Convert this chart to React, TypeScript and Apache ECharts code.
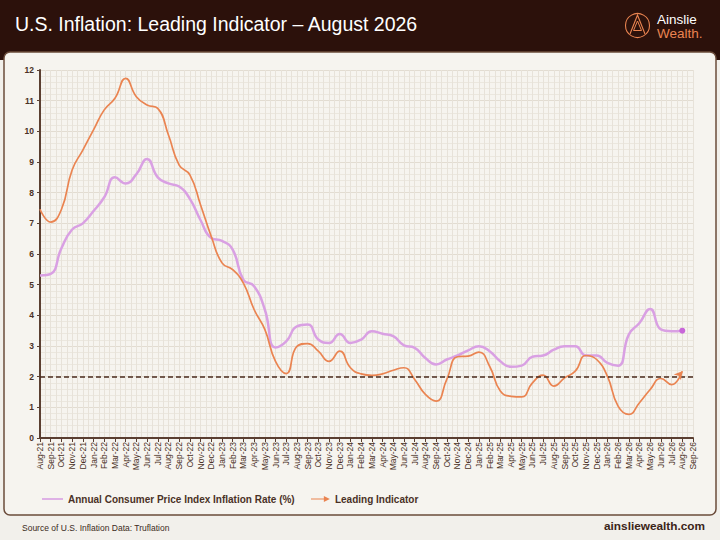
import React, { useEffect, useRef } from 'react';
import * as echarts from 'echarts';

const months = ['Aug-21','Sep-21','Oct-21','Nov-21','Dec-21','Jan-22','Feb-22','Mar-22','Apr-22','May-22','Jun-22','Jul-22','Aug-22','Sep-22','Oct-22','Nov-22','Dec-22','Jan-23','Feb-23','Mar-23','Apr-23','May-23','Jun-23','Jul-23','Aug-23','Sep-23','Oct-23','Nov-23','Dec-23','Jan-24','Feb-24','Mar-24','Apr-24','May-24','Jun-24','Jul-24','Aug-24','Sep-24','Oct-24','Nov-24','Dec-24','Jan-25','Feb-25','Mar-25','Apr-25','May-25','Jun-25','Jul-25','Aug-25','Sep-25','Oct-25','Nov-25','Dec-25','Jan-26','Feb-26','Mar-26','Apr-26','May-26','Jun-26','Jul-26','Aug-26','Sep-26'];

const cpi = [5.30,5.35,6.19,6.80,7.00,7.40,7.85,8.50,8.30,8.60,9.10,8.50,8.30,8.20,7.80,7.10,6.52,6.43,6.14,5.16,4.95,4.19,2.95,3.15,3.64,3.70,3.21,3.10,3.39,3.10,3.21,3.48,3.40,3.32,3.02,2.94,2.61,2.40,2.56,2.69,2.86,2.99,2.83,2.50,2.32,2.36,2.65,2.69,2.88,2.99,2.99,2.69,2.69,2.45,2.36,3.37,3.75,4.21,3.54,3.48,3.50];

const leading = [7.46,7.04,7.45,8.74,9.39,10.05,10.70,11.08,11.73,11.13,10.86,10.75,9.88,8.90,8.58,7.60,6.57,5.71,5.49,5.05,4.19,3.54,2.50,2.10,2.99,3.08,2.83,2.50,2.83,2.29,2.09,2.04,2.09,2.21,2.29,1.91,1.42,1.20,1.91,2.65,2.67,2.80,2.34,1.53,1.36,1.34,1.80,2.05,1.69,1.96,2.18,2.69,2.56,2.02,1.04,0.77,1.15,1.58,1.94,1.74,2.18];

const yTicks = { min: 0, max: 12, interval: 1 };
const threshold = 2;

const CPI_NAME = 'Annual Consumer Price Index Inflation Rate (%)';
const LEAD_NAME = 'Leading Indicator';
const TITLE = 'U.S. Inflation: Leading Indicator \u2013 August 2026';
const SOURCE = 'Source of U.S. Inflation Data: Truflation';
const SITE = 'ainsliewealth.com';

const FONT = '"Liberation Sans", Arial, sans-serif';
const DARK = '#2c110b';
const BROWN = '#4a3126';
const AXIS = '#5b3f31';
const ORANGE = '#ea8451';
const PURPLE = '#d9a0e3';

export default function App() {
  const ref = useRef<HTMLDivElement>(null);
  useEffect(() => {
    document.body.style.margin = '0';
    const chart = echarts.init(ref.current!, null, { renderer: 'svg' });
    const W = 720, H = 540;
    const gl = 40, gr = 27, gt = 70, gb = 102;
    const pw = W - gl - gr, ph = H - gt - gb;
    const pxX = pw / (months.length - 1);
    const pxY = ph / (yTicks.max - yTicks.min);
    const n = leading.length;
    const dy = (leading[n - 1] - leading[n - 2]) * pxY;
    const ang = (Math.atan2(dy, pxX) * 180) / Math.PI;
    const arrowRot = ang - 90;

    chart.setOption({
      animation: false,
      backgroundColor: '#f2f0eb',
      textStyle: { fontFamily: FONT },
      graphic: [
        { type: 'rect', z: -10, silent: true, shape: { x: 0, y: 0, width: W, height: 60 }, style: { fill: DARK } },
        { type: 'rect', z: -9, silent: true, shape: { x: 4, y: 52, width: 712, height: 463, r: 6 }, style: { fill: '#f6f4ef', stroke: '#6b4c3b', lineWidth: 1.5 } },
        { type: 'text', left: 15, top: 14, style: { text: TITLE, fill: '#ffffff', font: '19.5px ' + FONT } },
        { type: 'circle', shape: { cx: 637.5, cy: 25.5, r: 12 }, style: { fill: 'none', stroke: ORANGE, lineWidth: 1.1 } },
        { type: 'polyline', shape: { points: [[630, 34], [637.5, 15], [645, 34]] }, style: { fill: 'none', stroke: ORANGE, lineWidth: 1.1 } },
        { type: 'polyline', shape: { points: [[633.5, 30.5], [637.5, 21], [641.5, 30.5], [633.5, 30.5]] }, style: { fill: 'none', stroke: ORANGE, lineWidth: 1 } },
        { type: 'text', left: 657, top: 12, style: { text: 'Ainslie', fill: '#ffffff', font: '13.5px ' + FONT, lineHeight: 13 } },
        { type: 'text', left: 657, top: 26, style: { text: 'Wealth.', fill: ORANGE, font: '13.5px ' + FONT, lineHeight: 13 } },
        { type: 'text', left: 22, top: 523, style: { text: SOURCE, fill: '#3b2a22', font: '8.5px ' + FONT } },
        { type: 'text', right: 15, top: 520, style: { text: SITE, fill: '#3b2418', font: 'bold 11.8px ' + FONT } },
      ],
      grid: { left: gl, right: gr, top: gt, bottom: gb },
      legend: [
        {
          data: [CPI_NAME], left: 37, top: 489, icon: 'rect', itemWidth: 21, itemHeight: 1.6,
          textStyle: { color: BROWN, fontSize: 10, fontWeight: 'bold', fontFamily: FONT },
        },
        {
          data: [LEAD_NAME], left: 306, top: 489, itemWidth: 19, itemHeight: 6,
          icon: 'path://M0,4.3 L15,4.3 L15,1.5 L22,5 L15,8.5 L15,5.7 L0,5.7 Z',
          textStyle: { color: BROWN, fontSize: 10, fontWeight: 'bold', fontFamily: FONT },
        },
      ],
      xAxis: [
        {
          type: 'category', data: months, boundaryGap: false,
          axisLine: { lineStyle: { color: AXIS, width: 2 } },
          axisTick: { show: true, interval: 0, length: 4, lineStyle: { color: AXIS } },
          axisLabel: { interval: 0, rotate: 90, fontSize: 8.5, color: BROWN, fontFamily: FONT, margin: 4 },
          splitLine: { show: false },
        },
        {
          type: 'value', min: 0, max: months.length - 1, interval: 0.5, position: 'bottom',
          axisLine: { show: false }, axisTick: { show: false }, axisLabel: { show: false },
          splitLine: { show: true, lineStyle: { color: '#e7e2d9', width: 1 } },
        },
      ],
      yAxis: {
        type: 'value', min: yTicks.min, max: yTicks.max, interval: yTicks.interval,
        axisLine: { show: true, lineStyle: { color: AXIS, width: 2 } },
        axisTick: { show: true, length: 3, lineStyle: { color: AXIS } },
        axisLabel: { fontSize: 8.5, fontWeight: 'bold', color: BROWN, margin: 6, fontFamily: FONT },
        splitLine: { lineStyle: { color: '#e2dcd1' } },
        minorTick: { show: false, splitNumber: 5 },
        minorSplitLine: { show: true, lineStyle: { color: '#ebe7de' } },
      },
      series: [
        {
          name: CPI_NAME, type: 'line', data: cpi, smooth: 0.5, showSymbol: false, z: 3,
          lineStyle: { color: PURPLE, width: 2.5 }, itemStyle: { color: PURPLE },
          markPoint: {
            symbol: 'circle', symbolSize: 6, itemStyle: { color: '#c866d9' }, label: { show: false },
            data: [{ coord: [months[cpi.length - 1], cpi[cpi.length - 1]] }],
          },
          markLine: {
            silent: true, symbol: ['none', 'none'], label: { show: false },
            lineStyle: { color: '#4a2a1c', type: [5, 3], width: 1.5 },
            data: [{ yAxis: threshold }],
          },
        },
        {
          name: LEAD_NAME, type: 'line', data: leading, smooth: 0.5, showSymbol: false, z: 4,
          lineStyle: { color: ORANGE, width: 1.7 }, itemStyle: { color: ORANGE },
          markPoint: {
            symbol: 'arrow', symbolSize: [7, 8], symbolRotate: arrowRot, itemStyle: { color: ORANGE }, label: { show: false },
            data: [{ coord: [months[n - 1], leading[n - 1]] }],
          },
        },
      ],
    });
    return () => chart.dispose();
  }, []);
  return <div ref={ref} style={{ width: 720, height: 540, position: 'fixed', left: 0, top: 0 }} />;
}
